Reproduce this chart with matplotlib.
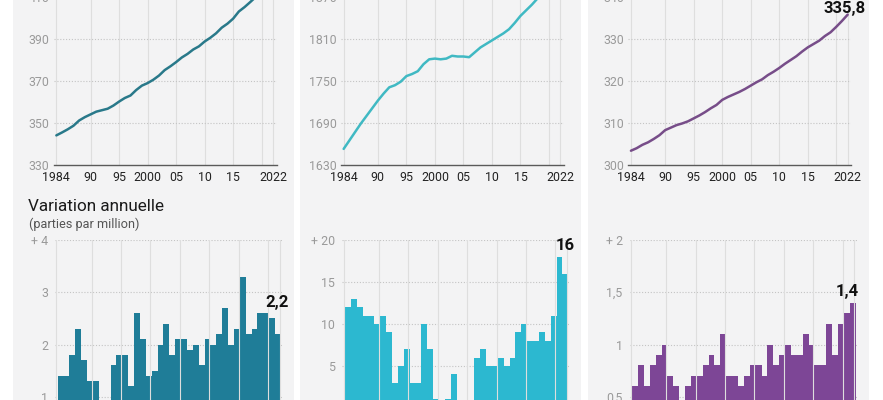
"""Concentrations of CO2, CH4, N2O since 1984 and their annual variation (WMO-style panels)."""
import matplotlib

matplotlib.use("Agg")
import matplotlib.pyplot as plt
from matplotlib.patches import Rectangle

plt.rcParams["font.family"] = ["Liberation Sans Narrow", "Roboto", "DejaVu Sans"]

# --- data -----------------------------------------------------------------
years = list(range(1984, 2023))
bar_years = list(range(1985, 2023))

co2_ppm = [344.1, 345.5, 347.0, 348.7, 351.2, 352.8, 354.1, 355.4, 356.1, 356.8,
           358.3, 360.2, 361.9, 363.1, 365.7, 367.8, 369.0, 370.6, 372.6, 375.2,
           377.0, 379.0, 381.2, 382.9, 385.0, 386.5, 388.8, 390.6, 392.7, 395.4,
           397.3, 399.7, 403.1, 405.2, 407.6, 410.1, 412.4, 415.0, 417.9]
ch4_ppb = [1653, 1665, 1677, 1689, 1700, 1711, 1722, 1732, 1741, 1744,
           1749, 1757, 1760, 1764, 1774, 1781, 1782, 1781, 1782, 1786,
           1785, 1785, 1784, 1791, 1798, 1803, 1808, 1813, 1818, 1824,
           1833, 1843, 1851, 1859, 1868, 1877, 1889, 1908, 1923]
n2o_ppb = [303.4, 304.0, 304.8, 305.4, 306.2, 307.1, 308.3, 308.9, 309.5, 309.9,
           310.4, 311.1, 311.8, 312.6, 313.5, 314.3, 315.5, 316.2, 316.8, 317.4,
           318.1, 318.9, 319.7, 320.4, 321.4, 322.2, 323.1, 324.1, 325.0, 325.9,
           327.0, 328.0, 328.8, 329.6, 330.7, 331.6, 332.9, 334.3, 335.8]

co2_growth = [1.4, 1.4, 1.8, 2.3, 1.7, 1.3, 1.3, 0.7, 0.9, 1.6,
              1.8, 1.8, 1.2, 2.6, 2.1, 1.4, 1.5, 2.0, 2.4, 1.8,
              2.1, 2.1, 1.9, 2.0, 1.6, 2.1, 2.0, 2.2, 2.7, 2.0,
              2.3, 3.3, 2.2, 2.3, 2.6, 2.6, 2.5, 2.2]
ch4_growth = [12, 13, 12, 11, 11, 10, 11, 9, 3, 5,
              7, 3, 3, 10, 7, 1, 0.5, 1, 4, 0.5,
              -0.5, 0.5, 6, 7, 5, 5, 6, 5, 6, 9,
              10, 8, 8, 9, 8, 11, 18, 16]
n2o_growth = [0.6, 0.8, 0.6, 0.8, 0.9, 1.0, 0.7, 0.6, 0.4, 0.6,
              0.7, 0.7, 0.8, 0.9, 0.8, 1.1, 0.7, 0.7, 0.6, 0.7,
              0.8, 0.8, 0.7, 1.0, 0.8, 0.9, 1.0, 0.9, 0.9, 1.1,
              1.0, 0.8, 0.8, 1.2, 0.9, 1.2, 1.3, 1.4]

xtick_years = [1984, 1990, 1995, 2000, 2005, 2010, 2015, 2022]
xtick_labels = ["1984", "90", "95", "2000", "05", "10", "15", "2022"]
grid_years = [1984, 1990, 1995, 2000, 2005, 2010, 2015, 2020, 2022]

conc_ticks = [[330, 350, 370, 390, 410],
              [1630, 1690, 1750, 1810, 1870],
              [300, 310, 320, 330, 340]]
conc_ylims = [(330, 420), (1630, 1900), (300, 345)]

growth_ticks = [[1, 2, 3, 4], [5, 10, 15, 20], [0.5, 1, 1.5, 2]]
growth_labels = [["1", "2", "3", "+ 4"], ["5", "10", "15", "+ 20"], ["0,5", "1", "1,5", "+ 2"]]
growth_ylims = [(0, 4), (-4.9, 20), (0, 2)]

line_colors = ["#29798a", "#40b9c3", "#774d89"]
bar_colors = ["#1f7d98", "#2cb8d0", "#7d4696"]

# last-value labels: text, value, offset (points)
bar_notes = [("2,2", 2.2, (6.6, 19.4)), ("16", 16, (5.2, 17)), ("1,4", 1.4, (2.8, 4.8))]

W, H = 883, 400
BG = "#f3f3f4"
fig = plt.figure(figsize=(W / 100, H / 100), dpi=100)


def px_axes(left, top, width, height):
    return fig.add_axes([left / W, 1 - (top + height) / H, width / W, height / H])


concs = [co2_ppm, ch4_ppb, n2o_ppb]
growths = [co2_growth, ch4_growth, n2o_growth]

for k in range(3):
    dx = 287.3 * k
    fig.patches.append(Rectangle(((13 + dx) / W, 0), 281 / W, 1, transform=fig.transFigure,
                                 facecolor=BG, edgecolor="none", zorder=-5))

    # top: concentration line
    ax = px_axes(53.5 + dx, -24, 223, 189)
    ax.patch.set_visible(False)
    ax.set_xlim(1983.5, 2022.6)
    ax.set_ylim(*conc_ylims[k])
    for g in grid_years:
        ax.axvline(g, color="#dedede", lw=0.8, zorder=1)
    for t in conc_ticks[k][1:]:
        ax.axhline(t, color="#c4c4c4", lw=0.8, ls=(0, (1, 1.6)), zorder=1)
    ax.plot(years, concs[k], color=line_colors[k], lw=1.8, zorder=3, solid_capstyle="round")
    ax.set_xticks(xtick_years)
    ax.set_xticklabels(xtick_labels, color="#222222", fontsize=8.9)
    ax.set_yticks(conc_ticks[k])
    ax.set_yticklabels([str(t) for t in conc_ticks[k]], color="#9a9a9a", fontsize=8.9)
    ax.tick_params(axis="both", length=0)
    ax.tick_params(axis="x", pad=4.5)
    ax.tick_params(axis="y", pad=3)
    for s in ["top", "left", "right"]:
        ax.spines[s].set_visible(False)
    ax.spines["bottom"].set_color("#5a5a5a")
    ax.spines["bottom"].set_linewidth(1.0)
    if k == 2:
        ax.annotate("335,8", xy=(2022, n2o_ppb[-1]), xytext=(13.2, 1.2), textcoords="offset points",
                    ha="right", va="baseline", fontsize=12, fontweight="bold",
                    family=["Roboto", "DejaVu Sans"], color="#111111")

    # bottom: annual variation bars
    bx = px_axes(55 + dx, 240, 227, 209)
    bx.patch.set_visible(False)
    bx.set_xlim(1983.76, 2022.37)
    bx.set_ylim(*growth_ylims[k])
    for t in growth_ticks[k]:
        bx.axhline(t, color="#c4c4c4", lw=0.8, ls=(0, (1, 1.6)), zorder=1)
    bx.bar(bar_years, growths[k], width=1.0, align="edge", color=bar_colors[k],
           linewidth=0, zorder=2, transform=bx.transData + matplotlib.transforms.ScaledTranslation(
               -0.8 * 5.88 / 100, 0, fig.dpi_scale_trans))
    for g in grid_years:
        bx.axvline(g, color="#dedede", lw=0.8, zorder=3)
    bx.set_xticks([])
    bx.set_yticks(growth_ticks[k])
    bx.set_yticklabels(growth_labels[k], color="#9a9a9a", fontsize=8.9)
    bx.tick_params(axis="y", length=0, pad=5)
    for s in bx.spines.values():
        s.set_visible(False)
    txt, val, off = bar_notes[k]
    bx.annotate(txt, xy=(2022, val), xytext=off, textcoords="offset points",
                ha="right", va="baseline", fontsize=12, fontweight="bold",
                family=["Roboto", "DejaVu Sans"], color="#111111")

fig.text(28 / W, 1 - 210.7 / H, "Variation annuelle", fontsize=12.3, color="#1a1a1a",
         family=["Roboto", "DejaVu Sans"], va="baseline")
fig.text(29 / W, 1 - 228 / H, "(parties par million)", fontsize=9.2, color="#555555", va="baseline")

fig.savefig("out.png", dpi=100, facecolor="white")
